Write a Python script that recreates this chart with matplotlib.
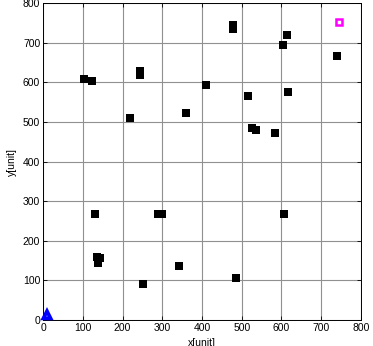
import matplotlib
matplotlib.use("Agg")
import matplotlib.pyplot as plt
import numpy as np

# black nodes (x, y)
node_x = np.array([104, 123, 245, 245, 219, 359, 479, 479, 409, 515, 603, 615,
                   739, 617, 525, 535, 584, 131, 290, 299, 135, 143, 138, 342,
                   252, 606, 485])
node_y = np.array([609, 602, 628, 618, 511, 522, 745, 735, 593, 566, 694, 720,
                   667, 576, 484, 480, 471, 267, 267, 267, 158, 157, 145, 137,
                   91, 267, 105])

sink_x, sink_y = [745], [751]
anchor_x, anchor_y = [9], [13]

ticks = np.arange(0, 801, 100)


def main() -> None:
    plt.rcParams['font.family'] = ['Liberation Sans', 'DejaVu Sans']
    fig = plt.figure(figsize=(3.73, 3.46), dpi=100)
    ax = fig.add_axes([0.1153, 0.0751, 0.8525, 0.9162])

    ax.plot(node_x, node_y, 's', color='black', ms=6.3, mew=0, zorder=3)
    ax.plot(sink_x, sink_y, 's', mfc='white', mec='magenta', ms=4, mew=1.8,
            zorder=4)
    # mostly filled blue triangle with a small white centre
    ax.plot(anchor_x, anchor_y, '^', mfc='white', mec='blue', ms=5, mew=3.2,
            zorder=4, clip_on=False)

    ax.set_xlim(0, 800)
    ax.set_ylim(0, 800)
    ax.set_xticks(ticks)
    ax.set_yticks(ticks)
    ax.grid(True, color='#909090', linewidth=0.8, linestyle='-')
    ax.set_axisbelow(True)
    ax.tick_params(direction='in', top=True, right=True, labelsize=7.5,
                   length=3, width=0.6, pad=2)
    for s in ax.spines.values():
        s.set_linewidth(0.7)
    # the reference cuts the x label off at the bottom edge
    ax.set_xlabel("x[unit]", fontsize=7.5, labelpad=4)
    ax.set_ylabel("y[unit]", fontsize=7.5, labelpad=4)

    fig.savefig("out.png", dpi=100)


if __name__ == "__main__":
    main()
